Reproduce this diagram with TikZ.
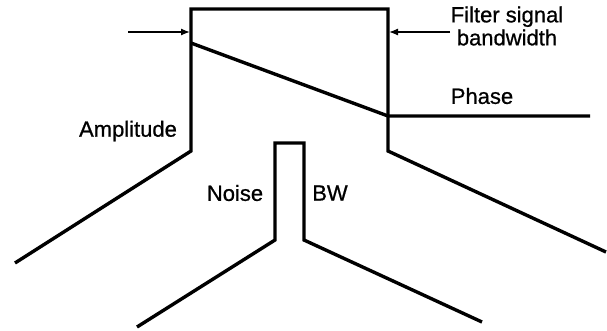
\documentclass[tikz,border=0pt]{standalone}
\usepackage{fontspec}
\setmainfont{Liberation Sans}[FakeBold=0.8]
\usetikzlibrary{arrows.meta}
\begin{document}
\begin{tikzpicture}[x=1pt,y=-1pt,
  curve/.style={line width=3.4pt,line join=miter},
  pointer/.style={line width=1.3pt,-{Latex[length=9pt,width=7pt]}},
  lbl/.style={font=\fontsize{22}{25}\selectfont,inner sep=0pt,align=center}]
\useasboundingbox (0,0) rectangle (607,330);
% amplitude
\coordinate (a1) at (15,263);
\coordinate (a2) at (191,151);
\coordinate (a3) at (191,9);
\coordinate (a4) at (388,9);
\coordinate (a5) at (388,151);
\coordinate (a6) at (606,252);
\draw[curve] (a1) -- (a2) -- (a3) -- (a4) -- (a5) -- (a6);
% noise
\coordinate (n1) at (137,327);
\coordinate (n2) at (275,240);
\coordinate (n3) at (275,143);
\coordinate (n4) at (304,143);
\coordinate (n5) at (304,240);
\coordinate (n6) at (482,322);
\draw[curve] (n1) -- (n2) -- (n3) -- (n4) -- (n5) -- (n6);
% phase
\coordinate (p1) at (191,43);
\coordinate (p2) at (388,116);
\coordinate (p3) at (590,116);
\draw[curve] (p1) -- (p2) -- (p3);
% arrows
\coordinate (l0) at (128,32);
\coordinate (l1) at (190,32);
\coordinate (r0) at (450,32);
\coordinate (r1) at (389,32);
\draw[pointer] (l0) -- (l1);
\draw[pointer] (r0) -- (r1);
% labels
\node[lbl] (filt) at (507,26) {Filter signal\\[-2pt]bandwidth};
\node[lbl] (phase) at (482,96) {Phase};
\node[lbl] (amp) at (128,131) {Amplitude};
\node[lbl] (noise) at (235,193) {Noise};
\node[lbl] (bw) at (330,193) {BW};
\end{tikzpicture}
\end{document}
